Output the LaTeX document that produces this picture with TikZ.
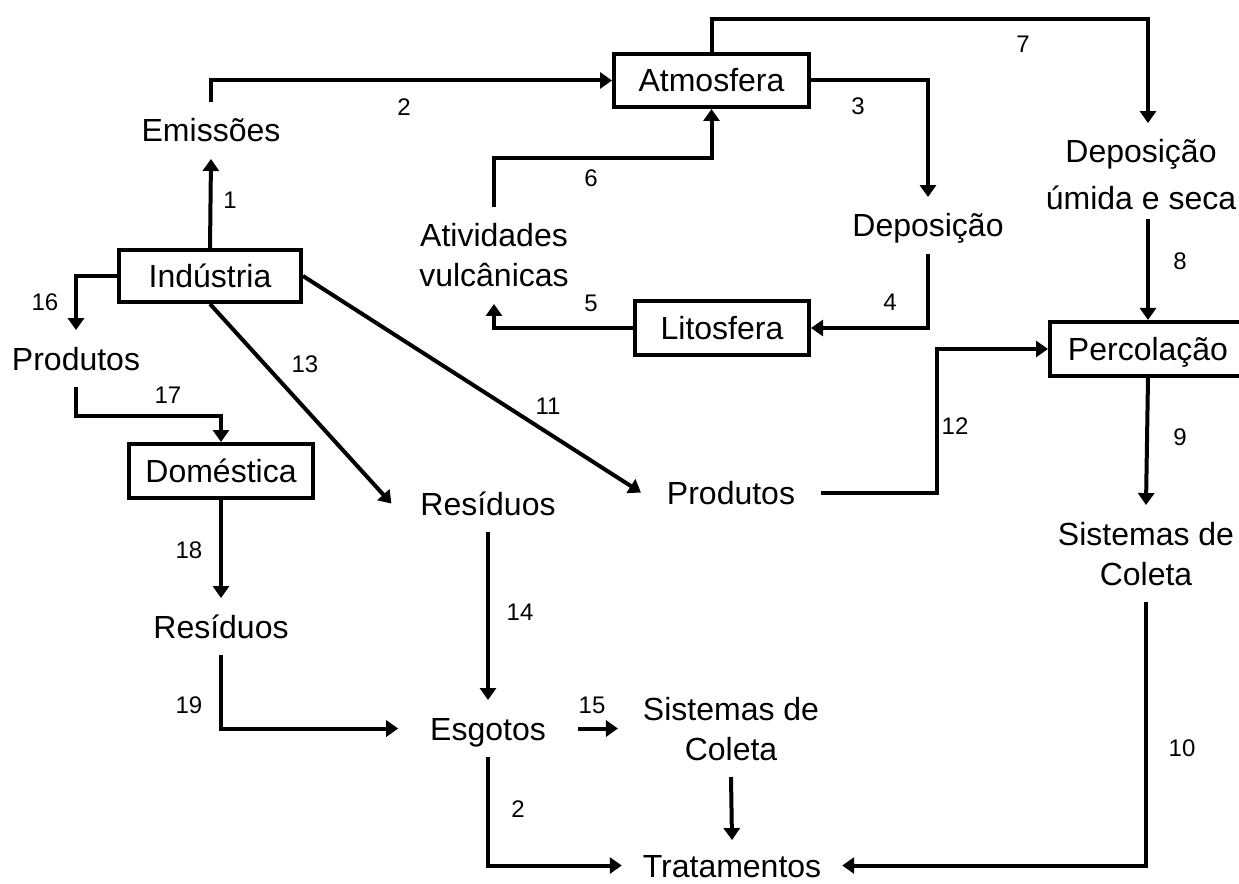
\documentclass[tikz,border=0pt]{standalone}
\usepackage{fontspec}
\setmainfont{Liberation Sans}
\usetikzlibrary{arrows.meta}

\begin{document}
\begin{tikzpicture}[x=0.75pt,y=-0.75pt,
  line width=3pt,
  flow/.style={-{Triangle[length=9pt,width=12pt]}, line join=miter},
  txt/.style={font=\fontsize{24}{30}\selectfont, anchor=base, inner xsep=0pt,
    inner ysep=11.25pt, text height=17.2pt, text depth=0pt},
  two/.style={txt, text depth=30pt},
  box/.style={draw, line width=3pt, inner sep=0pt, font=\fontsize{24}{30}\selectfont,
    text height=17.2pt, text depth=0pt},
  num/.style={font=\fontsize{18}{20}\selectfont, inner sep=0pt,
    text height=12.9pt, text depth=0pt}
]
\useasboundingbox (0,0) rectangle (1239,884);
\clip (0,0) rectangle (1239,884);

% boxed compartments
\node[box, minimum width=146.25pt, minimum height=39.75pt] (atm)  at (711.5,80.5) {Atmosfera};
\node[box, minimum width=130.5pt,  minimum height=40.5pt]  (lito) at (722,328)    {Litosfera};
\node[box, minimum width=136.5pt,  minimum height=39pt]    (ind)  at (210,276)    {Indústria};
\node[box, minimum width=138pt,    minimum height=40.5pt]  (dom)  at (221,471)    {Doméstica};
\node[box, minimum width=147pt,    minimum height=40.5pt]  (perc) at (1148,349)   {Percolação};

% free-text stages
\node[txt] (emis)  at (211,142) {Emissões};
\node[txt] (dep)   at (928,237) {Deposição};
\node[two] (ativ)  at (494,247) {\begin{tabular}[t]{@{}c@{}}Atividades\\vulcânicas\end{tabular}};
\node[two, text depth=29.25pt] (depu) at (1141,163)
  {\begin{tabular}[t]{@{}c@{}}Deposição\\[5.25pt]úmida e seca\end{tabular}};
\node[two] (sisR)  at (1146,545) {\begin{tabular}[t]{@{}c@{}}Sistemas de\\Coleta\end{tabular}};
\node[two, inner xsep=17.25pt] (sisM) at (731,720) {\begin{tabular}[t]{@{}c@{}}Sistemas de\\Coleta\end{tabular}};
\node[txt, inner xsep=20.25pt] (resM) at (488,515) {Resíduos};
\node[txt] (resL)  at (221,638) {Resíduos};
\node[txt, inner xsep=22.5pt] (esg) at (488,740) {Esgotos};
\node[txt] (prodL) at (76,370)  {Produtos};
\node[txt, inner xsep=18pt] (prodM) at (731,504) {Produtos};
\node[txt, inner xsep=14.25pt, inner ysep=9pt] (trat) at (732,877) {Tratamentos};

% connectors
\draw[flow] (ind.north) -- (emis.south);
\draw[flow] (emis.north) |- (atm.west);
\draw[flow] (atm.east) -| (dep.north);
\draw[flow] (dep.south) |- (lito.east);
\draw[flow] (lito.west) -| (ativ.south);
\draw[flow] (ativ.north) -- ++(0,-49) -| (atm.south);
\draw[flow] (atm.north) -- ++(0,-33) -| ([xshift=5.25pt]depu.north);
\draw[flow] ([xshift=5.25pt]depu.south) -- (perc.north);
\draw[flow] (perc.south) -- (sisR.north);
\draw[flow] (sisR.south) |- (trat.east);
\draw[flow] (ind.east) -- (prodM.west);
\draw[flow] (prodM.east) -- ++(116,0) |- (perc.west);
\draw[flow] (ind.south) -- (resM.west);
\draw[flow] (resM.south) -- (esg.north);
\draw[flow] (esg.east) -- (sisM.west);
\draw[flow] (sisM.south) -- (trat.north);
\draw[flow] (esg.south) |- (trat.west);
\draw[flow] (ind.west) -| (prodL.north);
\draw[flow] (prodL.south) -- ++(0,29) -| (dom.north);
\draw[flow] (dom.south) -- (resL.north);
\draw[flow] (resL.south) |- (esg.west);

% flow numbers
\node[num] (n1)  at (230,200)  {1};
\node[num] (n2)  at (404,107)  {2};
\node[num] (n3)  at (858,106)  {3};
\node[num] (n4)  at (890,302)  {4};
\node[num] (n5)  at (591,303)  {5};
\node[num] (n6)  at (591,178)  {6};
\node[num] (n7)  at (1023,44)  {7};
\node[num] (n8)  at (1180,261) {8};
\node[num] (n9)  at (1180,437) {9};
\node[num] (n10) at (1182,748) {10};
\node[num] (n11) at (548,406)  {11};
\node[num] (n12) at (955,426)  {12};
\node[num] (n13) at (305,364)  {13};
\node[num] (n14) at (520,612)  {14};
\node[num] (n15) at (592,705)  {15};
\node[num] (n16) at (45,302)   {16};
\node[num] (n17) at (168,395)  {17};
\node[num] (n18) at (189,550)  {18};
\node[num] (n19) at (189,705)  {19};
\node[num] (n2b) at (518,809)  {2};
\end{tikzpicture}
\end{document}
